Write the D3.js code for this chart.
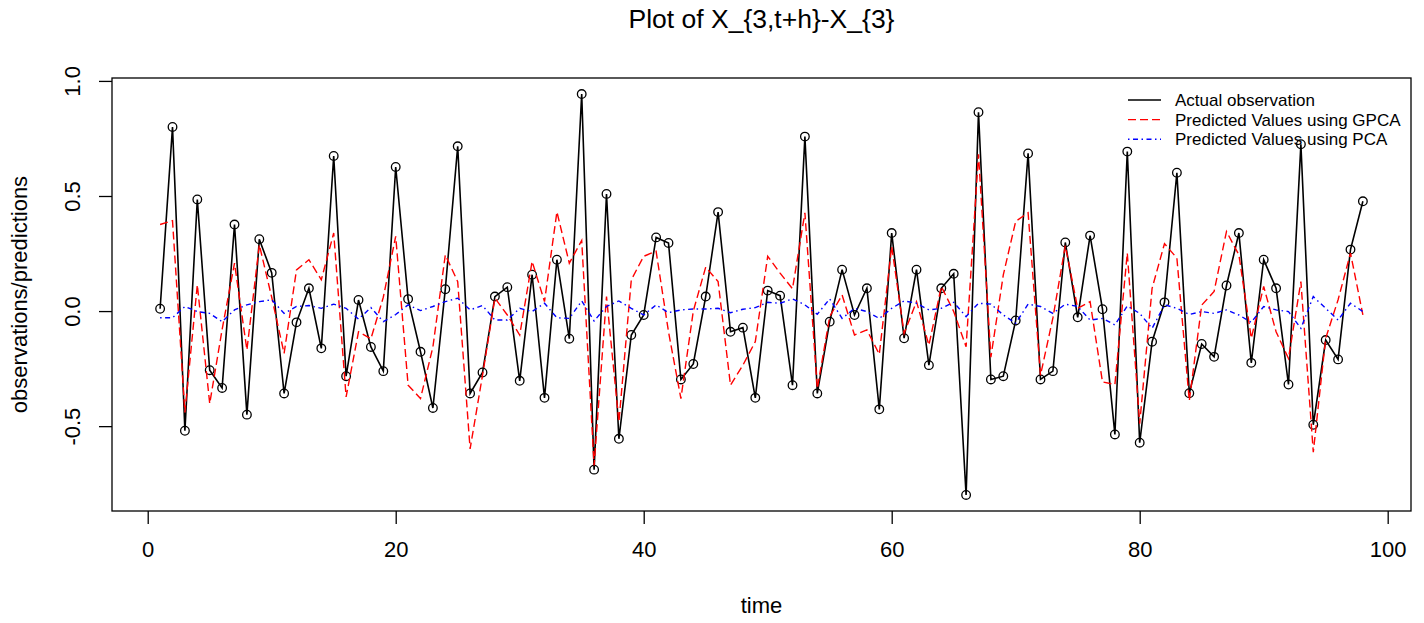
<!DOCTYPE html>
<html>
<head>
<meta charset="utf-8">
<script src="https://cdn.jsdelivr.net/npm/d3@7"></script>
<style>
  body { margin: 0; background: #fff; }
  svg text { font-family: "Liberation Sans", Arial, sans-serif; fill: #000; }
</style>
</head>
<body>
<svg id="chart" width="1424" height="623"></svg>
<script>
// time index 1..98
var time = d3.range(1, 99);

var actual = [
  0.01, 0.80, -0.52, 0.485, -0.257, -0.334, 0.376, -0.45, 0.312, 0.166,
  -0.358, -0.049, 0.099, -0.162, 0.674, -0.283, 0.048, -0.156, -0.261, 0.626,
  0.052, -0.177, -0.421, 0.095, 0.716, -0.358, -0.267, 0.063, 0.104, -0.303,
  0.158, -0.377, 0.223, -0.12, 0.943, -0.689, 0.509, -0.555, -0.104, -0.017,
  0.32, 0.296, -0.297, -0.23, 0.063, 0.43, -0.09, -0.072, -0.377, 0.089,
  0.067, -0.322, 0.758, -0.358, -0.046, 0.18, -0.017, 0.099, -0.427, 0.339,
  -0.118, 0.18, -0.235, 0.099, 0.162, -0.799, 0.864, -0.297, -0.283, -0.041,
  0.685, -0.297, -0.261, 0.298, -0.027, 0.328, 0.008, -0.536, 0.693, -0.572,
  -0.133, 0.038, 0.601, -0.357, -0.143, -0.199, 0.111, 0.339, -0.225, 0.223,
  0.099, -0.319, 0.725, -0.494, -0.126, -0.21, 0.267, 0.477
];

var gpca = [
  0.376, 0.393, -0.44, 0.114, -0.402, -0.08, 0.208, -0.169, 0.288, 0.06,
  -0.184, 0.179, 0.223, 0.136, 0.339, -0.373, -0.09, -0.12, 0.06, 0.325,
  -0.322, -0.38, -0.156, 0.244, 0.128, -0.599, -0.279, 0.056, -0.017, -0.104,
  0.216, 0.041, 0.431, 0.208, 0.307, -0.671, 0.063, -0.482, 0.136, 0.238,
  0.26, -0.09, -0.38, 0.0, 0.191, 0.128, -0.322, -0.235, -0.133, 0.238,
  0.165, 0.097, 0.427, -0.337, -0.024, 0.07, -0.104, -0.082, -0.188, 0.281,
  -0.097, 0.041, -0.148, 0.107, -0.002, -0.155, 0.681, -0.2, 0.157, 0.39,
  0.427, -0.279, -0.03, 0.284, 0.012, 0.041, -0.308, -0.319, 0.252, -0.489,
  0.099, 0.293, 0.23, -0.39, 0.026, 0.085, 0.346, 0.244, -0.118, 0.107,
  -0.09, -0.206, 0.128, -0.613, -0.118, 0.049, 0.252, -0.017
];

var pca = [
  -0.029, -0.029, 0.02, -0.002, -0.01, -0.046, 0.005, 0.027, 0.041, 0.049,
  -0.01, 0.02, 0.024, 0.012, 0.03, 0.012, -0.035, 0.015, -0.046, -0.015,
  0.027, 0.002, 0.02, 0.041, 0.056, 0.005, 0.024, -0.039, -0.039, 0.012,
  -0.002, 0.034, -0.029, -0.032, 0.044, -0.043, 0.02, 0.044, 0.012, -0.017,
  0.027, -0.007, 0.005, 0.009, 0.009, 0.012, -0.007, 0.008, 0.015, 0.038,
  0.034, 0.053, 0.027, -0.014, 0.053, -0.032, 0.012, -0.002, -0.032, 0.012,
  0.044, 0.034, 0.005, 0.012, 0.038, -0.024, 0.034, 0.03, -0.017, -0.053,
  0.03, 0.02, -0.01, 0.03, 0.02, -0.039, -0.032, -0.06, 0.022, -0.01,
  -0.075, 0.027, 0.012, -0.015, -0.002, -0.01, 0.005, -0.017, -0.049, 0.02,
  0.005, -0.002, -0.075, 0.063, 0.012, -0.039, 0.034, -0.002
];

var xTicks = [0, 20, 40, 60, 80, 100];
var yTicks = [-0.5, 0.0, 0.5, 1.0];
var legendLabels = ["Actual observation", "Predicted Values using GPCA", "Predicted Values using PCA"];

var svg = d3.select('#chart');
var box = { left: 112, right: 1411, top: 78, bottom: 511 };

// R style 4% axis extension
var xr = d3.extent(time), xpad = (xr[1] - xr[0]) * 0.04;
var yr = d3.extent(actual), ypad = (yr[1] - yr[0]) * 0.04;

var x = d3.scaleLinear().domain([xr[0] - xpad, xr[1] + xpad]).range([box.left, box.right]);
var y = d3.scaleLinear().domain([yr[0] - ypad, yr[1] + ypad]).range([box.bottom, box.top]);

// axes
var xAxis = svg.append('g')
  .attr('transform', 'translate(0,' + box.bottom + ')')
  .call(d3.axisBottom(x).tickValues(xTicks).tickFormat(d3.format('d')).tickSize(13).tickPadding(17));
xAxis.select('.domain').remove();
xAxis.selectAll('line').attr('stroke', '#000').attr('stroke-width', 1.3);
xAxis.selectAll('text').style('font-size', '22px').attr('fill', '#000');

var yAxis = svg.append('g')
  .attr('transform', 'translate(' + box.left + ',0)')
  .call(d3.axisLeft(y).tickValues(yTicks).tickSize(13));
yAxis.select('.domain').remove();
yAxis.selectAll('line').attr('stroke', '#000').attr('stroke-width', 1.3);
yAxis.selectAll('text')
  .attr('x', null).attr('dy', null)
  .attr('transform', 'translate(-32,0) rotate(-90)')
  .attr('text-anchor', 'middle')
  .style('font-size', '22px')
  .attr('fill', '#000')
  .text(function(d) { return d.toFixed(1); });

// box
svg.append('rect')
  .attr('x', box.left).attr('y', box.top)
  .attr('width', box.right - box.left).attr('height', box.bottom - box.top)
  .attr('fill', 'none').attr('stroke', '#000').attr('stroke-width', 1.3);

// lines
var line = function(vals) {
  return d3.line().x(function(d, i) { return x(time[i]); }).y(function(d) { return y(d); })(vals);
};

svg.append('path').attr('d', line(actual))
  .attr('fill', 'none').attr('stroke', '#000').attr('stroke-width', 1.6);

svg.selectAll('circle.obs').data(actual).enter().append('circle')
  .attr('class', 'obs')
  .attr('cx', function(d, i) { return x(time[i]); })
  .attr('cy', function(d) { return y(d); })
  .attr('r', 4.3)
  .attr('fill', 'none').attr('stroke', '#000').attr('stroke-width', 1.3);

svg.append('path').attr('d', line(gpca))
  .attr('fill', 'none').attr('stroke', '#ff0000').attr('stroke-width', 1.4)
  .attr('stroke-dasharray', '8,4');

svg.append('path').attr('d', line(pca))
  .attr('fill', 'none').attr('stroke', '#0000ff').attr('stroke-width', 1.4)
  .attr('stroke-dasharray', '1.5,3.5,5,3.5');

// titles
svg.append('text')
  .attr('x', (box.left + box.right) / 2).attr('y', 28)
  .attr('text-anchor', 'middle')
  .style('font-size', '26.5px')
  .text('Plot of X_{3,t+h}-X_{3}');

svg.append('text')
  .attr('x', (box.left + box.right) / 2).attr('y', 613)
  .attr('text-anchor', 'middle')
  .style('font-size', '22px')
  .text('time');

svg.append('text')
  .attr('transform', 'translate(27,' + (box.top + box.bottom) / 2 + ') rotate(-90)')
  .attr('text-anchor', 'middle')
  .style('font-size', '22px')
  .text('observations/predictions');

// legend
var legendColors = ['#000', '#ff0000', '#0000ff'];
var legendDash = [null, '8,4', '1.5,3.5,5,3.5'];
var lg = svg.append('g').attr('transform', 'translate(1128,100)');
legendLabels.forEach(function(lab, i) {
  lg.append('line')
    .attr('x1', 0).attr('x2', 33).attr('y1', i * 19.6).attr('y2', i * 19.6)
    .attr('stroke', legendColors[i]).attr('stroke-width', 1.4)
    .attr('stroke-dasharray', legendDash[i]);
  lg.append('text')
    .attr('x', 47).attr('y', i * 19.6 + 6)
    .style('font-size', '17px')
    .text(lab);
});
</script>
</body>
</html>
